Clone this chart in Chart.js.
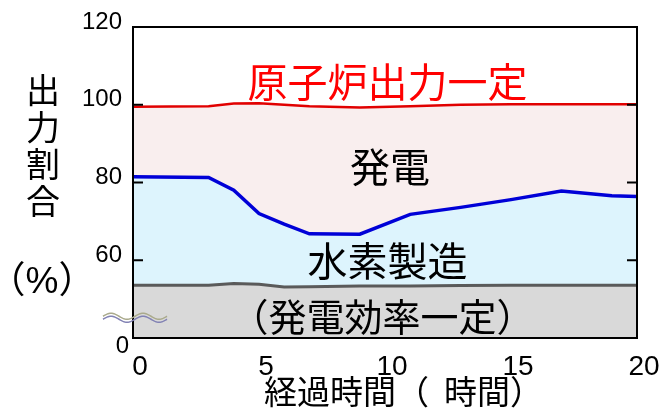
<!DOCTYPE html>
<html>
<head>
<meta charset="utf-8">
<script src="https://cdn.jsdelivr.net/npm/chart.js@4.4.0/dist/chart.umd.min.js"></script>
<style>
  html, body { margin: 0; padding: 0; background: #fff; }
</style>
</head>
<body>
<canvas id="chart" width="668" height="412"></canvas>
<script>
// elapsed time (hours)
const hours = [0, 3, 4, 5, 6, 7, 9, 11, 13, 15, 17, 19, 20];
// reactor output (red), generation/hydrogen boundary (blue), hydrogen/efficiency boundary (gray)
const reactorOutput = [99.5, 99.6, 100.3, 100.4, 100.0, 99.6, 99.3, 99.6, 100.0, 100.1, 100.1, 100.1, 100.1];
const generationLine = [81.5, 81.3, 78.0, 72.0, 69.3, 66.8, 66.7, 71.8, 73.6, 75.6, 77.8, 76.6, 76.4];
const efficiencyLine = [53.6, 53.6, 54.0, 53.8, 53.1, 53.2, 53.4, 53.4, 53.5, 53.6, 53.6, 53.6, 53.6];

// broken axis: the bottom tick (40) is shown as 0
const yTickValues = [40, 60, 80, 100, 120];
const yTickText = ['0', '60', '80', '100', '120'];
const xTickValues = [0, 5, 10, 15, 20];

const FONT = '"Liberation Sans", "Noto Sans CJK JP", sans-serif';

const toPoints = vals => vals.map((v, i) => ({ x: hours[i], y: v }));

const colors = {
  red: 'rgb(225, 0, 0)',
  blue: 'rgb(0, 0, 215)',
  gray: 'rgb(90, 90, 90)',
  pink: 'rgb(249, 238, 238)',
  sky: 'rgb(221, 244, 253)',
  fog: 'rgb(217, 217, 217)'
};

const decor = {
  id: 'decor',
  afterDraw(chart) {
    const { ctx, chartArea: a, scales: { x, y } } = chart;
    ctx.save();

    // frame + inner ticks
    ctx.strokeStyle = '#000';
    ctx.lineWidth = 2;
    ctx.strokeRect(a.left, a.top, a.right - a.left, a.bottom - a.top);
    [60, 80, 100].forEach(v => {
      const py = y.getPixelForValue(v);
      ctx.beginPath();
      ctx.moveTo(a.left, py); ctx.lineTo(a.left + 10, py);
      ctx.moveTo(a.right - 10, py); ctx.lineTo(a.right, py);
      ctx.stroke();
    });

    // axis break mark
    const bx = a.left - 30, by = y.getPixelForValue(45.6);
    [['rgb(170,170,140)', 0], ['rgb(130,130,180)', 3]].forEach(([c, dy]) => {
      ctx.strokeStyle = c;
      ctx.lineWidth = 1.5;
      ctx.beginPath();
      for (let i = 0; i <= 64; i++) {
        const px = bx + i;
        const py = by + dy - 3 * Math.sin((i / 32) * Math.PI * 2);
        i ? ctx.lineTo(px, py) : ctx.moveTo(px, py);
      }
      ctx.stroke();
    });

    // bottom "0" of the broken axis
    ctx.fillStyle = '#000';
    ctx.font = '24px ' + FONT;
    ctx.textAlign = 'right';
    ctx.textBaseline = 'middle';
    ctx.fillText(yTickText[0], a.left - 4, y.getPixelForValue(40) + 8);

    // region labels
    const cx = x.getPixelForValue(10.1);
    ctx.textAlign = 'center';
    ctx.font = '40px ' + FONT;
    ctx.fillStyle = 'rgb(255, 0, 0)';
    ctx.fillText('原子炉出力一定', cx, y.getPixelForValue(104.9));
    ctx.fillStyle = '#000';
    ctx.fillText('発電', x.getPixelForValue(10.2), y.getPixelForValue(83.0));
    ctx.fillText('水素製造', cx, y.getPixelForValue(58.7));
    ctx.font = '38px ' + FONT;
    ctx.fillText('（発電効率一定）', x.getPixelForValue(9.9), y.getPixelForValue(44.6));

    // x axis title
    ctx.font = '33px ' + FONT;
    ctx.textAlign = 'left';
    ctx.fillText('経過時間（', 264, 395);
    ctx.fillText('時間）', 444, 395);

    // y axis title, stacked vertically
    ctx.textAlign = 'center';
    ctx.font = '34px ' + FONT;
    ['出', '力', '割', '合'].forEach((ch, i) => ctx.fillText(ch, 43, 94 + i * 37));
    ctx.font = '37px ' + FONT;
    ctx.fillText('（%）', 42, 283);

    ctx.restore();
  }
};

new Chart(document.getElementById('chart'), {
  type: 'line',
  data: {
    datasets: [
      {
        label: '発電効率一定',
        data: toPoints(efficiencyLine),
        borderColor: colors.gray,
        backgroundColor: colors.fog,
        borderWidth: 3,
        fill: 'start',
        pointRadius: 0,
        tension: 0
      },
      {
        label: '水素製造',
        data: toPoints(generationLine),
        borderColor: colors.blue,
        backgroundColor: colors.sky,
        borderWidth: 3.5,
        fill: '-1',
        pointRadius: 0,
        tension: 0
      },
      {
        label: '原子炉出力',
        data: toPoints(reactorOutput),
        borderColor: colors.red,
        backgroundColor: colors.pink,
        borderWidth: 2.5,
        fill: '-1',
        pointRadius: 0,
        tension: 0
      }
    ]
  },
  options: {
    responsive: false,
    animation: false,
    devicePixelRatio: 1,
    layout: { padding: { left: 0, top: 27, right: 31, bottom: 0 } },
    plugins: {
      legend: { display: false },
      tooltip: { enabled: false }
    },
    scales: {
      x: {
        type: 'linear',
        min: 0,
        max: 20,
        afterBuildTicks: s => { s.ticks = xTickValues.map(v => ({ value: v })); },
        afterFit: s => { s.height = 74; },
        grid: { display: false, drawTicks: false },
        border: { display: false },
        ticks: {
          color: '#000',
          font: { size: 28, family: FONT },
          padding: 12,
          labelOffset: 7,
          maxRotation: 0
        }
      },
      y: {
        min: 40,
        max: 120,
        afterBuildTicks: s => { s.ticks = yTickValues.map(v => ({ value: v })); },
        afterFit: s => { s.width = 133; },
        grid: { display: false, drawTicks: false },
        border: { display: false },
        ticks: {
          color: '#000',
          font: { size: 24, family: FONT },
          padding: 11,
          labelOffset: -5,
          callback: v => (v === 40 ? '' : yTickText[yTickValues.indexOf(v)])
        }
      }
    }
  },
  plugins: [decor]
});
</script>
</body>
</html>
